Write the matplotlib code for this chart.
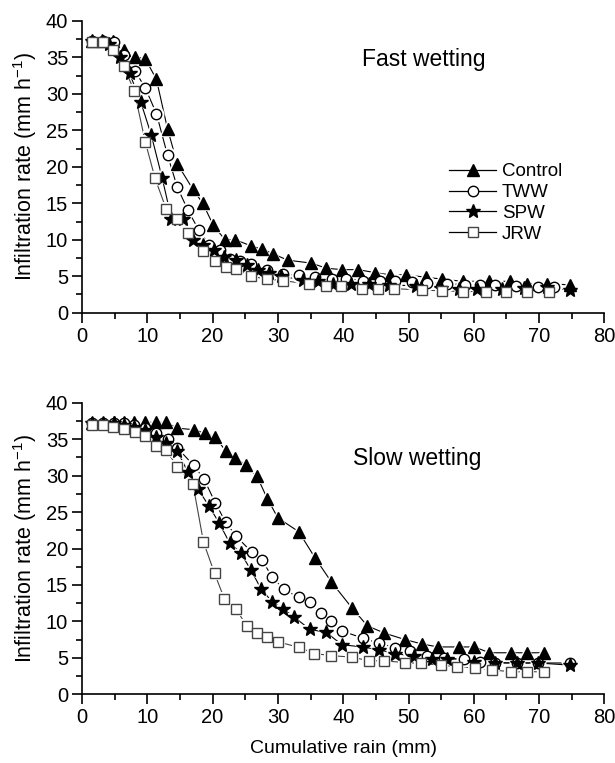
import matplotlib
matplotlib.use("Agg")
import matplotlib.pyplot as plt
from matplotlib.ticker import MultipleLocator

plt.rcParams['font.family'] = ['Liberation Sans', 'DejaVu Sans']

# ---- Fast wetting ----
fast_ctrl_x = [1.5, 3.2, 4.8, 6.5, 8.1, 9.7, 11.4, 13.1, 14.6, 17.0, 18.5, 20.1, 21.9, 23.5, 25.9, 27.6,
               29.2, 31.5, 35.1, 37.4, 39.8, 42.3, 44.8, 47.1, 49.6, 52.7, 55.2, 58.3, 62.4, 65.6, 68.1, 71.2, 74.8]
fast_ctrl_y = [37.2, 37.2, 37.2, 36.0, 35.1, 34.8, 32.0, 25.2, 20.4, 16.9, 15.0, 12.0, 10.0, 10.0, 9.15, 8.7,
               8.1, 7.2, 6.8, 6.1, 5.9, 5.9, 5.5, 5.2, 5.2, 4.85, 4.6, 4.3, 4.3, 4.3, 4.0, 4.0, 3.8]

fast_tww_x = [1.5, 3.2, 4.85, 6.5, 8.1, 9.7, 11.4, 13.1, 14.6, 16.2, 17.9, 19.5, 21.2, 22.7, 24.2, 25.9, 28.3,
              30.8, 33.3, 35.7, 38.3, 40.5, 43.1, 45.6, 48.0, 50.5, 52.8, 55.9, 58.7, 61.0, 63.3, 66.4, 69.8, 72.3]
fast_tww_y = [37.2, 37.2, 37.1, 35.3, 33.2, 30.8, 27.3, 21.6, 17.2, 14.1, 11.3, 9.3, 8.6, 7.4, 7.1, 6.7, 5.9,
              5.3, 5.1, 4.9, 4.6, 4.6, 4.4, 4.4, 4.3, 4.2, 4.1, 4.0, 3.8, 3.8, 3.8, 3.7, 3.5, 3.5]

fast_spw_x = [1.5, 3.0, 4.1, 5.8, 7.3, 9.0, 10.6, 12.3, 13.7, 15.5, 17.0, 18.6, 20.2, 21.8, 23.6, 25.3, 26.9,
              28.6, 30.4, 33.9, 36.2, 38.5, 41.2, 44.0, 47.0, 51.1, 54.9, 57.7, 60.5, 64.3, 67.7, 71.2, 74.8]
fast_spw_y = [37.2, 37.2, 36.9, 35.1, 32.8, 28.9, 24.4, 18.4, 12.9, 12.9, 9.9, 9.3, 8.6, 7.6, 7.2, 6.5, 5.9,
              5.5, 5.0, 4.5, 4.3, 4.0, 4.0, 3.9, 3.8, 3.7, 3.4, 3.3, 3.3, 3.3, 3.4, 3.5, 3.1]

fast_jrw_x = [1.5, 3.2, 4.7, 6.4, 8.0, 9.7, 11.2, 12.9, 14.5, 16.2, 18.6, 20.3, 22.0, 23.6, 25.9, 28.3, 30.8,
              34.8, 37.3, 39.7, 42.9, 45.3, 47.8, 52.1, 55.1, 58.4, 61.8, 65.0, 68.1, 71.5]
fast_jrw_y = [37.1, 37.1, 36.0, 33.8, 30.4, 23.4, 18.4, 14.2, 12.9, 10.9, 8.5, 7.1, 6.3, 6.0, 5.0, 4.6, 4.4,
              3.9, 3.7, 3.6, 3.3, 3.3, 3.3, 3.1, 3.0, 2.9, 2.9, 2.9, 2.9, 2.9]

# ---- Slow wetting ----
slow_ctrl_x = [1.5, 3.2, 4.9, 6.4, 8.0, 9.7, 11.4, 12.9, 14.6, 17.2, 18.8, 20.4, 22.0, 23.5, 25.1, 26.8, 28.4,
               30.0, 33.2, 35.7, 38.2, 41.3, 43.7, 46.3, 49.5, 52.1, 54.5, 57.7, 60.1, 62.4, 65.7, 68.2, 70.7]
slow_ctrl_y = [37.2, 37.2, 37.3, 37.3, 37.3, 37.3, 37.3, 37.3, 36.5, 36.3, 35.8, 35.3, 33.4, 32.4, 31.4, 29.9, 26.8,
               24.2, 22.3, 18.7, 15.4, 11.9, 9.4, 8.4, 7.5, 6.9, 6.5, 6.5, 6.5, 5.7, 5.7, 5.7, 5.7]

slow_tww_x = [1.5, 3.2, 4.9, 6.4, 8.0, 9.7, 11.4, 13.1, 14.6, 17.1, 18.7, 20.4, 22.0, 23.6, 26.0, 27.6, 29.1,
              30.9, 33.2, 34.9, 36.6, 38.2, 39.8, 43.0, 45.5, 48.0, 50.3, 52.8, 55.4, 58.5, 61.0, 63.3, 66.6, 69.8, 74.8]
slow_tww_y = [37.2, 37.2, 37.2, 37.2, 37.0, 36.5, 35.8, 35.0, 33.8, 31.4, 29.5, 26.3, 23.6, 21.7, 19.5, 18.4, 16.1,
              14.4, 13.3, 12.6, 11.1, 10.0, 8.7, 7.7, 7.0, 6.4, 6.0, 5.3, 5.0, 4.8, 4.5, 4.3, 4.3, 4.3, 4.3]

slow_spw_x = [1.5, 3.2, 4.9, 6.4, 8.0, 9.7, 11.3, 12.9, 14.6, 16.2, 17.8, 19.4, 21.0, 22.6, 24.3, 25.9, 27.4,
              29.1, 30.8, 32.5, 34.9, 37.4, 39.8, 43.0, 45.5, 48.0, 50.8, 53.6, 55.9, 60.0, 63.3, 66.6, 69.8, 74.8]
slow_spw_y = [37.2, 37.2, 37.2, 37.0, 36.7, 36.3, 35.3, 34.5, 33.4, 30.5, 28.1, 25.9, 23.5, 20.8, 19.4, 17.0, 14.5,
              12.7, 11.7, 10.6, 8.9, 8.5, 6.8, 6.5, 6.1, 5.6, 5.2, 4.9, 4.8, 4.5, 4.35, 4.3, 4.3, 4.0]

slow_jrw_x = [1.6, 3.2, 4.8, 6.4, 8.1, 9.6, 11.4, 12.9, 14.6, 17.0, 18.6, 20.3, 21.8, 23.6, 25.2, 26.8, 28.4,
              30.0, 33.2, 35.6, 38.2, 41.4, 43.9, 46.3, 49.4, 51.9, 55.0, 57.5, 60.2, 62.8, 65.7, 68.1, 70.7]
slow_jrw_y = [37.0, 37.0, 36.6, 36.4, 36.0, 35.5, 34.0, 33.5, 31.2, 28.8, 20.9, 16.6, 13.1, 11.7, 9.4, 8.4, 7.8,
              7.2, 6.45, 5.6, 5.3, 5.1, 4.6, 4.6, 4.35, 4.25, 4.0, 3.8, 3.6, 3.35, 3.1, 3.1, 3.1]

labels = ["Control", "TWW", "SPW", "JRW"]
styles = [
    dict(marker='^', ms=8, mfc='black', mec='black', color='black'),
    dict(marker='o', ms=7.5, mfc='white', mec='black', color='black'),
    dict(marker='*', ms=10, mfc='black', mec='black', color='black'),
    dict(marker='s', ms=6.5, mfc='white', mec='#444444', color='#444444'),
]

fast = [(fast_ctrl_x, fast_ctrl_y), (fast_tww_x, fast_tww_y), (fast_spw_x, fast_spw_y), (fast_jrw_x, fast_jrw_y)]
slow = [(slow_ctrl_x, slow_ctrl_y), (slow_tww_x, slow_tww_y), (slow_spw_x, slow_spw_y), (slow_jrw_x, slow_jrw_y)]

fig = plt.figure(figsize=(6.15, 7.63), dpi=100)
ax1 = fig.add_axes([0.1333, 0.5902, 0.8495, 0.3823])
ax2 = fig.add_axes([0.1333, 0.0900, 0.8495, 0.3822])


def draw_panel(ax, data, title, tx, ty):
    for (x, y), st, lab in zip(data, styles, labels):
        ax.plot(x, y, '-', color=st['color'], lw=0.8, zorder=2)
        # white halo so the line stops short of each symbol
        ax.plot(x, y, ls='none', marker=st['marker'], ms=st['ms'] + 2.5, mfc='white', mec='white',
                mew=1.5, zorder=3)
        ax.plot(x, y, ls='none', marker=st['marker'], ms=st['ms'], mfc=st['mfc'], mec=st['mec'],
                mew=1.0, zorder=4)
    ax.set_xlim(0, 80)
    ax.set_ylim(0, 40)
    ax.xaxis.set_major_locator(MultipleLocator(10))
    ax.xaxis.set_minor_locator(MultipleLocator(5))
    ax.yaxis.set_major_locator(MultipleLocator(5))
    ax.yaxis.set_minor_locator(MultipleLocator(2.5))
    for s in ['top', 'right']:
        ax.spines[s].set_visible(False)
    for s in ['left', 'bottom']:
        ax.spines[s].set_linewidth(1.2)
    ax.tick_params(which='major', direction='out', length=7, width=1.2, labelsize=14.5, pad=3)
    ax.tick_params(which='minor', direction='out', length=4, width=1.2)
    ax.set_ylabel("Infiltration rate (mm h$^{\\mathregular{-1}}$)", fontsize=15.5, labelpad=5)
    ax.text(tx, ty, title, fontsize=16.5, ha='center', va='center')


draw_panel(ax1, fast, "Fast wetting", 52.3, 34.7)
draw_panel(ax2, slow, "Slow wetting", 51.3, 32.4)

handles = []
for st, lab in zip(styles, labels):
    h, = ax1.plot([], [], '-', color='black', lw=0.9, marker=st['marker'], ms=st['ms'],
                  mfc=st['mfc'], mec=st['mec'])
    handles.append(h)
ax1.legend(handles, labels, loc='upper left', bbox_to_anchor=(0.685, 0.545), frameon=False,
           fontsize=13.5, handlelength=2.5, handletextpad=0.3, labelspacing=0.2, borderpad=0)

ax2.set_xlabel("Cumulative rain (mm)", fontsize=14, labelpad=9)

fig.savefig("out.png", dpi=100)
